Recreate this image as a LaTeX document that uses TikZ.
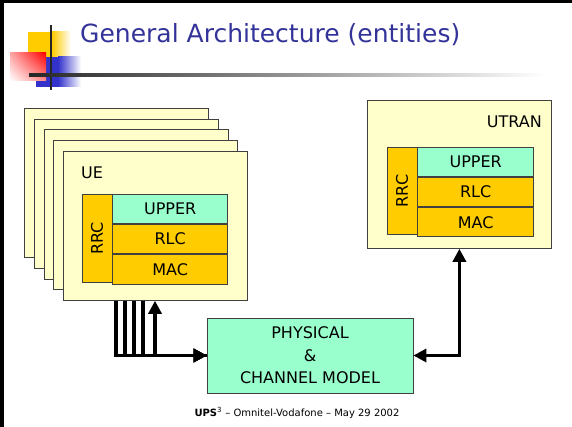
\documentclass[tikz,border=0pt]{standalone}
\usepackage{fontspec}
\setmainfont{DejaVu Sans}
\usepackage{tikz}
\usetikzlibrary{positioning,arrows.meta,shadings}
\definecolor{paleyellow}{HTML}{FFFFCC}
\definecolor{layerorange}{HTML}{FFCC00}
\definecolor{layermint}{HTML}{99FFCC}
\definecolor{titleblue}{HTML}{333399}
\definecolor{logoblue}{HTML}{3333CC}
\definecolor{edgegray}{HTML}{404040}

\begin{document}
\begin{tikzpicture}[x=1pt,y=1pt,yscale=-1,xscale=1,
    entity/.style={draw=edgegray, line width=0.8pt, fill=paleyellow, inner sep=0pt,
      minimum width=184pt, minimum height=149pt, anchor=north west},
    layer/.style={draw=edgegray, line width=0.8pt, fill=layerorange, inner sep=0pt,
      minimum width=115pt, minimum height=29.3pt, font=\fontsize{16}{19}\selectfont},
    upperlayer/.style={layer, fill=layermint},
    rrcbar/.style={draw=edgegray, line width=0.8pt, fill=layerorange, inner sep=0pt,
      minimum width=29.5pt, minimum height=88pt, anchor=north west},
    bigtext/.style={inner sep=0pt, font=\fontsize{16}{19}\selectfont},
    wire/.style={line width=3.5pt, line join=miter},
    tip/.tip={Triangle[length=13pt,width=13pt]}]
    \useasboundingbox (0,0) rectangle (572,427);

    %Frame border
    \fill[black] (0,0) rectangle (572,3);
    \fill[black] (0,0) rectangle (4,427);

    %Logo squares
    \fill[layerorange] (28,32) rectangle (52,74);
    \shade[left color=layerorange, right color=white] (52,32) rectangle (71,74);
    \fill[logoblue] (36,57) rectangle (58,87);
    \shade[left color=logoblue, right color=white] (58,57) rectangle (81,87);
    \shade[upper right=red, upper left=red!35, lower right=red!45, lower left=white] (10,53) rectangle (46,81);
    %Logo lines
    \draw[line width=2pt, black!85] (51,25) -- (51,90);
    \shade[left color=black!85, middle color=black!30, right color=white] (29,73.5) rectangle (545,76.5);

    % Text Node
    \node[anchor=base west, inner sep=0pt, text=titleblue, font=\fontsize{25}{30}\selectfont] (title) at (80,43) {General Architecture (entities)};

    %UE entities
    \foreach \i in {0,...,4}
      \node[entity] (ue\i) at ({24+9.75*\i},{108+10.75*\i}) {};
    % Text Node
    \node[bigtext, anchor=west] (uename) at (81,173) {UE};
    %UE protocol stack
    \node[rrcbar] (uerrc) at (82,194) {};
    \node[bigtext, rotate=90] (uerrctext) at (uerrc) {RRC};
    \node[upperlayer, anchor=north west] (ueupper) at (uerrc.north east) {UPPER};
    \node[layer, below=0pt of ueupper] (uerlc) {RLC};
    \node[layer, below=0pt of uerlc] (uemac) {MAC};

    %UTRAN entity
    \node[entity, minimum height=148pt] (utran) at (367,100) {};
    % Text Node
    \node[bigtext, anchor=east] (utranname) at (542,122) {UTRAN};
    %UTRAN protocol stack
    \node[rrcbar, minimum height=87pt] (utrrc) at (387,147) {};
    \node[bigtext, rotate=90] (utrrctext) at (utrrc) {RRC};
    \node[upperlayer, anchor=north west, minimum width=116pt] (utupper) at (utrrc.north east) {UPPER};
    \node[layer, minimum width=116pt, below=0pt of utupper] (utrlc) {RLC};
    \node[layer, minimum width=116pt, below=0pt of utrlc] (utmac) {MAC};

    %Physical layer and channel
    \node[draw=edgegray, line width=0.8pt, fill=layermint, minimum width=206pt, minimum height=75pt,
      align=center, font=\fontsize{16}{22.5}\selectfont] (phys) at (310,355.5) {PHYSICAL\\\&\\CHANNEL MODEL};

    %Connectors
    \foreach \dx in {53,62,71,80}
      \draw[wire, -tip] ([xshift=\dx pt]ue4.south west) |- (phys.west);
    \draw[wire, tip-] ([xshift=92pt]ue4.south west) |- (phys.west);
    \draw[wire, tip-tip] (phys.east) -| (utran.south);

    % Text Node
    \node[inner sep=0pt, anchor=base, font=\fontsize{10}{12}\selectfont] (footer) at (297,416) {\textbf{UPS}\textsuperscript{3} -- Omnitel-Vodafone -- May 29 2002};
\end{tikzpicture}
\end{document}
